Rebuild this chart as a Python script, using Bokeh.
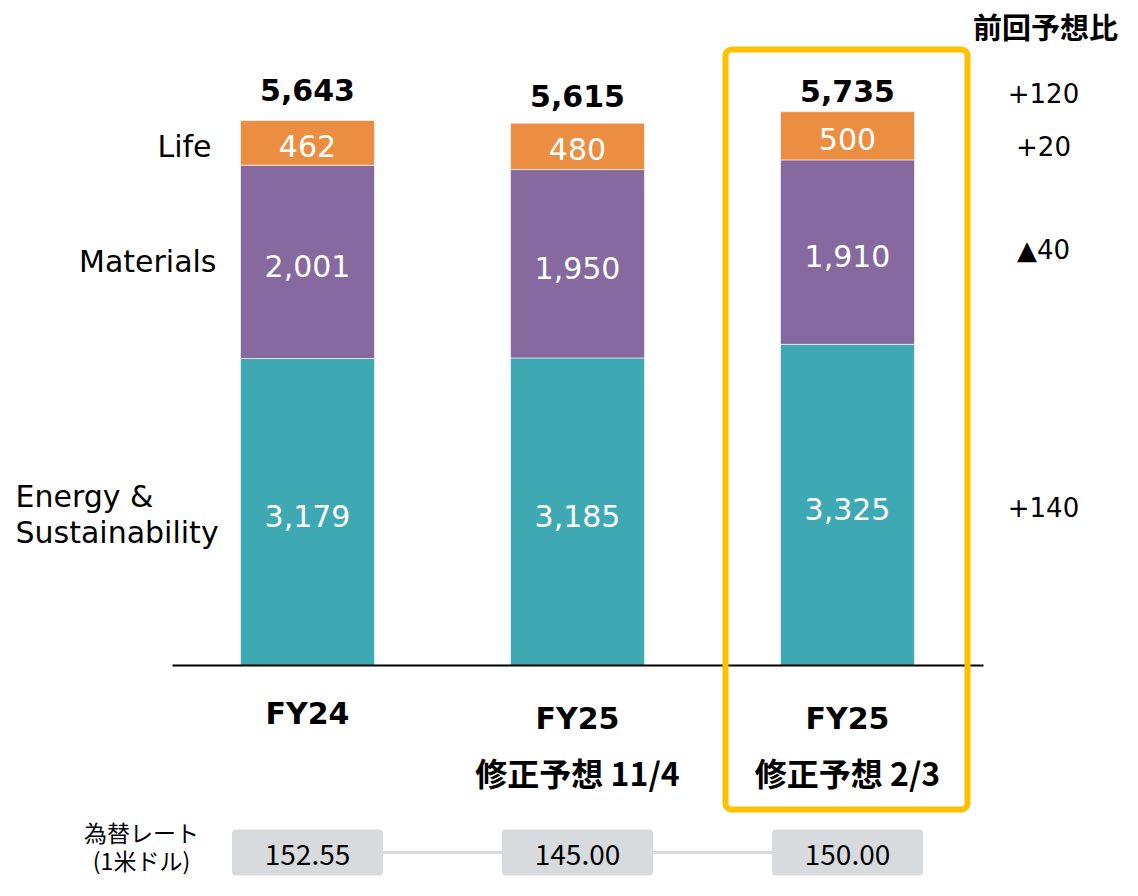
import numpy as np
from bokeh.plotting import figure
from bokeh.models import ColumnDataSource, Range1d
from bokeh.core.properties import value
from bokeh.embed import file_html
from bokeh.resources import INLINE

# ---------------- data ----------------
periods = ["FY24", "FY25", "FY25"]
subtitles = ["", "修正予想 11/4", "修正予想 2/3"]
segment_names = ["Energy &\nSustainability", "Materials", "Life"]
energy = [3179, 3185, 3325]
materials = [2001, 1950, 1910]
life = [462, 480, 500]
totals = [5643, 5615, 5735]
diff_header = "前回予想比"
diff_total = "+120"
diff_life = "+20"
diff_materials = "▲40"
diff_energy = "+140"
fx_label = ["為替レート", "(1米ドル)"]
fx_rates = [152.55, 145.00, 150.00]

# ---------------- layout helpers (reference pixel -> data) ----------------
W, H = 1122, 880
S = 545.0 / 5643.0          # pixels per unit of value
PITCH = 270.0               # pixels between bar centres
X0 = 307.0                  # pixel of first bar centre
BASE = 665.0                # pixel of zero line


def X(px):
    return (px - X0) / PITCH


def Y(py):
    return (BASE - py) / S


p = figure(width=W, height=H, x_range=Range1d(X(0), X(W)),
           y_range=Range1d(Y(H), Y(0)), output_backend="svg",
           toolbar_location=None, min_border=0)
p.axis.visible = False
p.grid.visible = False
p.outline_line_color = None
p.background_fill_color = "white"
p.border_fill_color = "white"

LAT = "DejaVu Sans"
JP = "Noto Sans CJK JP"


def txt(xs, ys, texts, size, color="black", font=LAT, style="normal",
        align="center", baseline="middle", y_offset=0):
    p.text(x=xs, y=ys, text=texts, text_font=value(font),
           text_font_size=f"{size}px", text_font_style=style,
           text_color=color, text_align=align, text_baseline=baseline,
           y_offset=y_offset)


xs = np.arange(len(periods), dtype=float)
src = ColumnDataSource(dict(x=xs, energy=energy, materials=materials, life=life))
colors = ["#3EA9B3", "#86699F", "#EB8E41"]
p.vbar_stack(["energy", "materials", "life"], x="x", width=134 / PITCH,
             color=colors, line_color="white", line_width=0.6, source=src)

# zero line
p.segment(x0=[X(172)], y0=[0], x1=[X(983)], y1=[0], line_color="black", line_width=2)

# segment labels
e = np.array(energy, float)
m = np.array(materials, float)
l = np.array(life, float)


def fmt(v):
    return f"{int(v):,}"


txt(xs, e / 2, [fmt(v) for v in energy], 30, color="white", y_offset=4)
txt(xs, e + m / 2, [fmt(v) for v in materials], 30, color="white", y_offset=4)
txt(xs, e + m + l / 2, [fmt(v) for v in life], 30, color="white", y_offset=3)

# totals
tot = np.array(totals, float)
txt(xs, tot, [fmt(v) for v in totals], 30, style="bold", y_offset=[-31, -27, -21])

# segment names (left)
txt([X(211)], [Y(146)], ["Life"], 30, align="right")
txt([X(216)], [Y(261)], ["Materials"], 30, align="right")
txt([X(15)], [Y(496)], ["Energy &"], 30, align="left")
txt([X(15)], [Y(532)], ["Sustainability"], 30, align="left")

# highlight box
p.quad(left=[X(725)], right=[X(967)], top=[Y(49)], bottom=[Y(809)],
       fill_color=None, line_color="#FFC000", line_width=6, border_radius=6)

# x labels
txt(xs, [Y(713), Y(718), Y(718)], periods, 30, style="bold")
txt(xs[1:], [Y(771)] * 2, subtitles[1:], 32, font=JP, style="bold")

# diff column
txt([X(1045)], [Y(25)], [diff_header], 29, font=JP, style="bold")
txt([X(1043)] * 4, [Y(92), Y(145), Y(249), Y(506)],
    [diff_total, diff_life, diff_materials, diff_energy], 26)

# FX rates row
p.segment(x0=[xs[0]], y0=[Y(852)], x1=[xs[-1]], y1=[Y(852)],
          line_color="#DADADA", line_width=3)
p.quad(left=xs - 75.5 / PITCH, right=xs + 75.5 / PITCH,
       top=[Y(829)] * 3, bottom=[Y(875)] * 3,
       fill_color="#D8DBDE", line_color=None, border_radius=4)
txt(xs, [Y(854)] * 3, [f"{v:.2f}" for v in fx_rates], 28, font=JP)
txt([X(141)] * 2, [Y(831)] * 1 + [Y(859)], fx_label, 23, font=JP)

open("out.html", "w").write(file_html(p, INLINE))
